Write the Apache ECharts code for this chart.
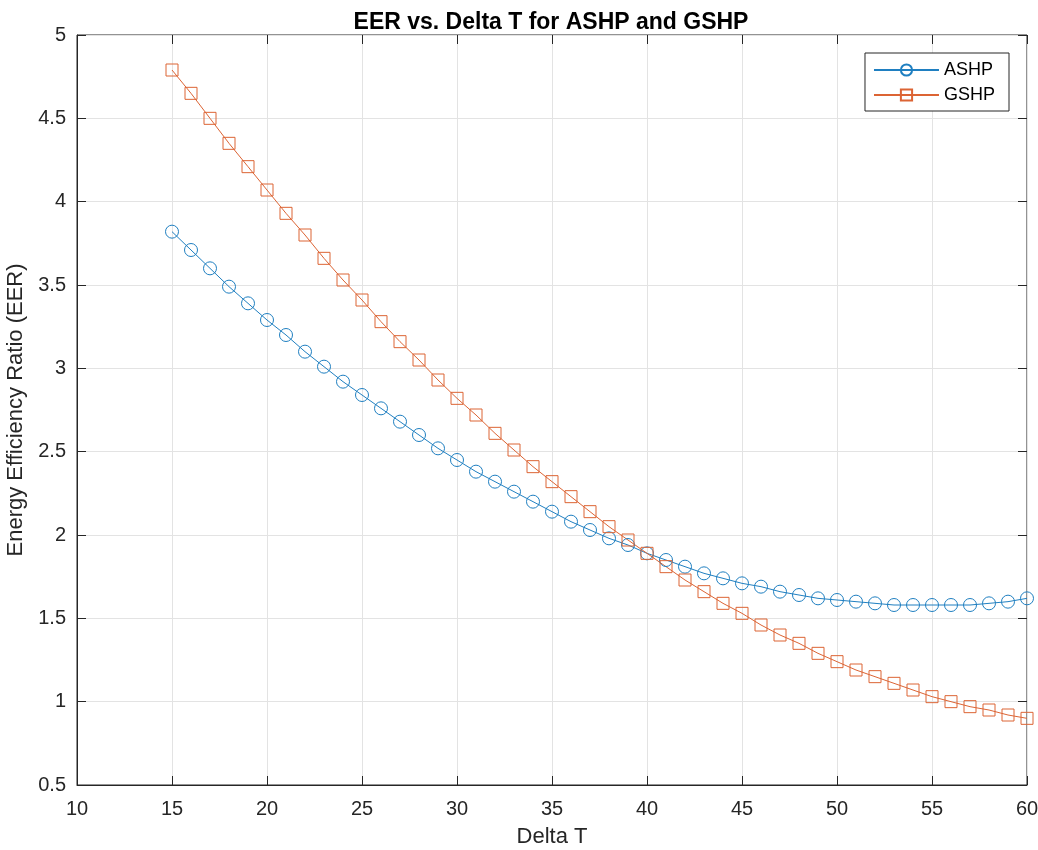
<!DOCTYPE html>
<html>
<head>
<meta charset="utf-8">
<script src="https://cdn.jsdelivr.net/npm/echarts@6/dist/echarts.min.js"></script>
<style>
  html, body { margin: 0; padding: 0; background: #fff; }
  #chart { width: 1038px; height: 850px; }
</style>
</head>
<body>
<div id="chart"></div>
<script>
// Delta T values 15..60
const deltaT = [15, 16, 17, 18, 19, 20, 21, 22, 23, 24, 25, 26, 27, 28, 29, 30,
  31, 32, 33, 34, 35, 36, 37, 38, 39, 40, 41, 42, 43, 44, 45, 46, 47, 48, 49, 50,
  51, 52, 53, 54, 55, 56, 57, 58, 59, 60];

const ashp = [3.82, 3.71, 3.60, 3.49, 3.39, 3.29, 3.20, 3.10, 3.01, 2.92, 2.84, 2.76,
  2.68, 2.60, 2.52, 2.45, 2.38, 2.32, 2.26, 2.20, 2.14, 2.08, 2.03, 1.98, 1.94, 1.89,
  1.85, 1.81, 1.77, 1.74, 1.71, 1.69, 1.66, 1.64, 1.62, 1.61, 1.60, 1.59, 1.58, 1.58,
  1.58, 1.58, 1.58, 1.59, 1.60, 1.62];

const gshp = [4.79, 4.65, 4.50, 4.35, 4.21, 4.07, 3.93, 3.80, 3.66, 3.53, 3.41, 3.28,
  3.16, 3.05, 2.93, 2.82, 2.72, 2.61, 2.51, 2.41, 2.32, 2.23, 2.14, 2.05, 1.97, 1.89,
  1.81, 1.73, 1.66, 1.59, 1.53, 1.46, 1.40, 1.35, 1.29, 1.24, 1.19, 1.15, 1.11, 1.07,
  1.03, 1.00, 0.97, 0.95, 0.92, 0.90];

const seriesNames = ['ASHP', 'GSHP'];
const colors = ['#1f7fc1', '#dc6434'];

const font = 'Helvetica, "Liberation Sans", Arial, sans-serif';
const axisColor = '#262626';

function pairs(ys) {
  return deltaT.map((x, i) => [x, ys[i]]);
}

function makeSeries(name, ys, color, symbol, size) {
  return {
    name: name,
    type: 'line',
    data: pairs(ys),
    symbol: symbol,
    symbolSize: size,
    showAllSymbol: true,
    lineStyle: { color: color, width: 1 },
    itemStyle: { color: 'rgba(255,255,255,0)', borderColor: color, borderWidth: 1 },
    emphasis: { disabled: true },
    z: 3
  };
}

const chart = echarts.init(document.getElementById('chart'));

const config = {
  animation: false,
  backgroundColor: '#fff',
  textStyle: { fontFamily: font },
  title: {
    text: 'EER vs. Delta T for ASHP and GSHP',
    left: 551,
    textAlign: 'center',
    top: 11,
    padding: 0,
    textStyle: { fontSize: 23, fontWeight: 'bold', color: '#000', fontFamily: font }
  },
  legend: {
    data: seriesNames,
    orient: 'vertical',
    right: 29,
    top: 53,
    itemWidth: 65,
    itemHeight: 14,
    itemGap: 7,
    padding: [8, 14, 7, 8],
    borderColor: axisColor,
    borderWidth: 1,
    borderRadius: 0,
    backgroundColor: '#fff',
    textStyle: { fontSize: 18, color: '#000', fontFamily: font }
  },
  grid: {
    left: 77,
    right: 11,
    top: 35,
    bottom: 65,
    outerBoundsMode: 'none',
    containLabel: false,
    show: true,
    borderColor: axisColor,
    borderWidth: 1
  },
  xAxis: [{
    type: 'value',
    min: 10,
    max: 60,
    interval: 5,
    name: 'Delta T',
    nameLocation: 'middle',
    nameGap: 41,
    nameTextStyle: { fontSize: 22, color: axisColor, fontFamily: font },
    axisLine: { show: true, lineStyle: { color: axisColor } },
    axisTick: { show: true, inside: true, length: 9, lineStyle: { color: axisColor } },
    axisLabel: { fontSize: 20, color: axisColor, margin: 14, fontFamily: font },
    splitLine: { show: true, lineStyle: { color: '#e3e3e3' } }
  }, {
    type: 'value',
    position: 'top',
    min: 10,
    max: 60,
    interval: 5,
    axisLine: { show: false },
    axisTick: { show: true, inside: true, length: 9, lineStyle: { color: axisColor } },
    axisLabel: { show: false },
    splitLine: { show: false }
  }],
  yAxis: [{
    type: 'value',
    min: 0.5,
    max: 5,
    interval: 0.5,
    name: 'Energy Efficiency Ratio (EER)',
    nameLocation: 'middle',
    nameGap: 46,
    nameTextStyle: { fontSize: 22, color: axisColor, fontFamily: font },
    axisLine: { show: true, lineStyle: { color: axisColor } },
    axisTick: { show: true, inside: true, length: 9, lineStyle: { color: axisColor } },
    axisLabel: { fontSize: 20, color: axisColor, margin: 11, fontFamily: font },
    splitLine: { show: true, lineStyle: { color: '#e3e3e3' } }
  }, {
    type: 'value',
    position: 'right',
    min: 0.5,
    max: 5,
    interval: 0.5,
    axisLine: { show: false },
    axisTick: { show: true, inside: true, length: 9, lineStyle: { color: axisColor } },
    axisLabel: { show: false },
    splitLine: { show: false }
  }],
  series: [
    makeSeries(seriesNames[0], ashp, colors[0], 'circle', 13),
    makeSeries(seriesNames[1], gshp, colors[1], 'rect', 12)
  ]
};

chart.setOption(config);
</script>
</body>
</html>
